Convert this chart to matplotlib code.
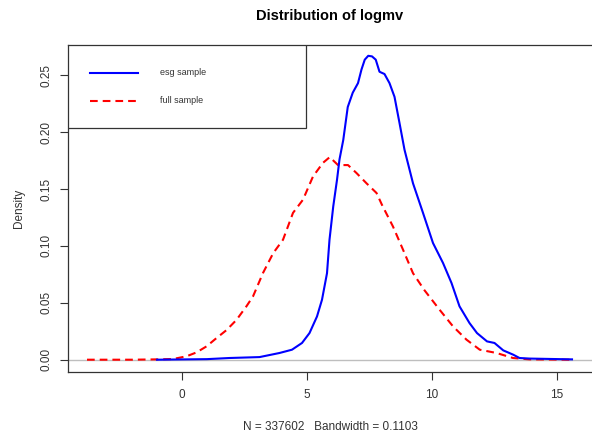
import numpy as np
import matplotlib.pyplot as plt
from matplotlib.patches import Rectangle
from matplotlib.lines import Line2D

plt.rcParams['font.family'] = ['Liberation Sans', 'DejaVu Sans']

# density curves
esg_x = [-1.0, 1.0, 1.9, 3.1, 3.9, 4.4, 4.8, 5.1, 5.4, 5.6, 5.8, 5.9, 6.05, 6.2,
         6.3, 6.45, 6.63, 6.83, 7.04, 7.18, 7.31, 7.45, 7.6, 7.75, 7.9, 8.1, 8.3,
         8.5, 8.7, 8.9, 9.24, 9.64, 10.04, 10.44, 10.78, 11.1, 11.5, 11.8, 12.2,
         12.5, 12.85, 13.25, 13.5, 13.9, 15.6]
esg_y = [0, 0.0005, 0.0015, 0.0023, 0.0059, 0.0088, 0.0147, 0.0234, 0.038, 0.0527,
         0.076, 0.1054, 0.1347, 0.158, 0.176, 0.193, 0.222, 0.2346, 0.243, 0.255,
         0.2636, 0.267, 0.2665, 0.2636, 0.253, 0.251, 0.243, 0.231, 0.208, 0.1845,
         0.155, 0.129, 0.1025, 0.085, 0.0674, 0.0469, 0.0322, 0.0234, 0.0161,
         0.0147, 0.0082, 0.0044, 0.0015, 0.001, 0.0003]

full_x = [-3.8, -2.0, -1.0, -0.36, 0.18, 0.58, 0.98, 1.38, 1.78, 2.18, 2.58, 2.84,
          3.24, 3.65, 4.04, 4.44, 4.84, 5.24, 5.64, 5.91, 6.24, 6.64, 6.98, 7.38,
          7.78, 8.0, 8.44, 8.84, 9.24, 9.7, 10.3, 10.84, 11.38, 11.91, 12.58,
          13.24, 13.9, 15.6]
full_y = [0, 0, 0.0003, 0.0006, 0.003, 0.0064, 0.0117, 0.019, 0.026, 0.035, 0.047,
          0.0556, 0.0762, 0.0937, 0.1054, 0.129, 0.1406, 0.161, 0.173, 0.178,
          0.171, 0.171, 0.164, 0.155, 0.1465, 0.136, 0.117, 0.0967, 0.076, 0.061,
          0.044, 0.0293, 0.0176, 0.0088, 0.0059, 0.0015, 0.0003, 0]

x_ticks = [0, 5, 10, 15]
y_ticks = [0.00, 0.05, 0.10, 0.15, 0.20, 0.25]
labels = ['esg sample', 'full sample']

fig = plt.figure(figsize=(5.92, 4.38), dpi=100)
ax = fig.add_axes([68 / 592, 1 - 372 / 438, 524 / 592, 327 / 438])

ax.axhline(0, color='#bebebe', lw=1, zorder=1)
ax.plot(esg_x, esg_y, color='#0000ff', lw=1.5, zorder=3)
ax.plot(full_x, full_y, color='#ff0000', lw=1.5, dashes=(3.7, 2.4), zorder=2)

ax.set_xlim(-4.56, 16.4)
ax.set_ylim(-0.0108, 0.2765)
ax.set_xticks(x_ticks)
ax.set_yticks(y_ticks)
ax.set_xticklabels([str(t) for t in x_ticks])
ax.set_yticklabels(['%.2f' % t for t in y_ticks], rotation=90, va='center')
ax.tick_params(direction='out', length=6, width=0.8, color='#333333',
               labelsize=8.5, labelcolor='#333333', pad=6)
ax.tick_params(axis='y', pad=5)
for s in ['left', 'top', 'bottom']:
    ax.spines[s].set_color('#333333')
    ax.spines[s].set_linewidth(0.9)
ax.spines['right'].set_visible(False)

ax.set_xlabel('N = 337602   Bandwidth = 0.1103', fontsize=8.5, color='#333333', labelpad=15)
ax.set_ylabel('Density', fontsize=8.5, color='#333333', labelpad=11)
fig.text(330 / 592, 1 - 16 / 438, 'Distribution of logmv', ha='center', va='center',
         fontsize=10.5, fontweight='bold')

# legend box drawn like R's legend()
ax.add_patch(Rectangle((0, 0.746), 0.454, 0.254, transform=ax.transAxes,
                       facecolor='white', edgecolor='#333333', lw=0.9, zorder=4))
ax.add_line(Line2D([0.042, 0.1336], [0.915, 0.915], transform=ax.transAxes,
                   color='#0000ff', lw=1.5, zorder=5))
ax.add_line(Line2D([0.042, 0.1336], [0.829, 0.829], transform=ax.transAxes,
                   color='#ff0000', lw=1.5, dashes=(3.7, 2.4), zorder=5))
ax.text(0.1756, 0.915, labels[0], transform=ax.transAxes, fontsize=6.5,
        va='center', color='#333333', zorder=5)
ax.text(0.1756, 0.829, labels[1], transform=ax.transAxes, fontsize=6.5,
        va='center', color='#333333', zorder=5)

fig.savefig('out.png', dpi=100)
